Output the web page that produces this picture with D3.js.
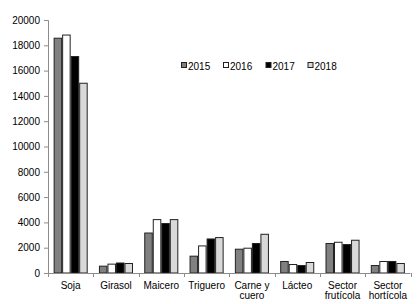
<!DOCTYPE html>
<html><head><meta charset="utf-8">
<script src="https://cdn.jsdelivr.net/npm/d3@7"></script>
<style>body{margin:0;background:#fff}text{font-family:"Liberation Sans",Arial,sans-serif}</style>
</head><body>
<script>
const categories = [["Soja"],["Girasol"],["Maicero"],["Triguero"],["Carne y","cuero"],["Lácteo"],["Sector","frutícola"],["Sector","hortícola"]];
const years = ["2015","2016","2017","2018"];
const v2015 = [18600, 580, 3200, 1370, 1920, 950, 2370, 630];
const v2016 = [18850, 740, 4260, 2180, 2000, 710, 2470, 950];
const v2017 = [17150, 830, 3950, 2730, 2370, 630, 2290, 950];
const v2018 = [15040, 790, 4260, 2840, 3100, 870, 2630, 790];
const series = [v2015, v2016, v2017, v2018];
const colors = ["#808080", "#ffffff", "#000000", "#d9d9d9"];
const yTicks = [0,2000,4000,6000,8000,10000,12000,14000,16000,18000,20000];

(function(){
const W = 417, H = 304;
const svg = d3.select("body").append("svg").attr("width", W).attr("height", H);
const mLeft = 48, mRight = 410.5, mTop = 20, mBottom = 273;
const x0 = d3.scaleBand().domain(d3.range(categories.length)).range([mLeft, mRight]).paddingInner(0).paddingOuter(0);
const x1 = d3.scaleBand().domain(d3.range(years.length)).range([0, x0.bandwidth()]).paddingInner(0).paddingOuter(0.66);
const y = d3.scaleLinear().domain([0, 20000]).range([mBottom, mTop]);

// y axis
const ya = svg.append("g").attr("transform", `translate(${mLeft},0)`)
  .call(d3.axisLeft(y).tickValues(yTicks).tickSize(4).tickPadding(4).tickFormat(d3.format("d")));
ya.select(".domain").attr("stroke", "#8c8c8c");
ya.selectAll(".tick line").attr("stroke", "#8c8c8c");
ya.selectAll("text").attr("font-size", 10).attr("fill", "#000").style("font-family", '"Liberation Sans",Arial,sans-serif');

// bars
categories.forEach((c, i) => {
  series.forEach((s, j) => {
    svg.append("rect")
      .attr("x", x0(i) + x1(j) + 0.5)
      .attr("y", y(s[i]) + 0.5)
      .attr("width", x1.bandwidth() - 1)
      .attr("height", Math.max(0, y(0) - y(s[i]) - 0.5))
      .attr("fill", colors[j]).attr("stroke", "#222").attr("stroke-width", 1);
  });
});

// x axis
svg.append("line").attr("x1", mLeft).attr("x2", mRight).attr("y1", mBottom + 0.5).attr("y2", mBottom + 0.5).attr("stroke", "#8c8c8c");
d3.range(categories.length + 1).forEach(i => {
  const xx = Math.round(mLeft + i * x0.bandwidth()) + 0.5;
  svg.append("line").attr("x1", xx).attr("x2", xx).attr("y1", mBottom).attr("y2", mBottom + 4).attr("stroke", "#8c8c8c");
});
categories.forEach((c, i) => {
  const t = svg.append("text").attr("x", x0(i) + x0.bandwidth() / 2).attr("y", 288.5)
    .attr("text-anchor", "middle").attr("font-size", 10).attr("fill", "#000");
  c.forEach((line, k) => t.append("tspan").attr("x", x0(i) + x0.bandwidth() / 2).attr("dy", k === 0 ? 0 : 10.5).text(line));
});

// legend
const legX = [181.5, 223.5, 266, 308];
years.forEach((yr, j) => {
  svg.append("rect").attr("x", legX[j]).attr("y", 62.5).attr("width", 5).attr("height", 5)
    .attr("fill", colors[j]).attr("stroke", "#222");
  svg.append("text").attr("x", legX[j] + 6.5).attr("y", 69.5).attr("font-size", 10).attr("fill", "#000").text(yr);
});
})();
</script>
</body></html>
